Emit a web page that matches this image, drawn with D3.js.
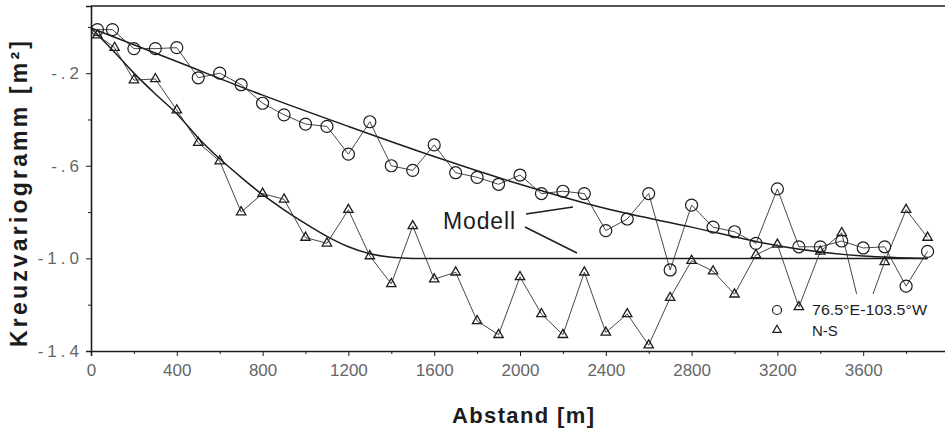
<!DOCTYPE html>
<html>
<head>
<meta charset="utf-8">
<script src="https://cdn.jsdelivr.net/npm/d3@7"></script>
<style>
  html, body { margin: 0; padding: 0; background: #fff; }
  svg { display: block; }
</style>
</head>
<body>
<script>
// ---------------- data ----------------
const ewDist = [30,100,200,300,400,500,600,700,800,900,1000,1100,1200,1300,1400,1500,1600,1700,1800,1900,2000,2100,2200,2300,2400,2500,2600,2700,2800,2900,3000,3100,3200,3300,3400,3500,3600,3700,3800,3900];
const ewVal  = [-0.012,-0.012,-0.094,-0.094,-0.09,-0.22,-0.20,-0.25,-0.33,-0.38,-0.42,-0.43,-0.55,-0.41,-0.60,-0.62,-0.51,-0.63,-0.65,-0.68,-0.64,-0.72,-0.71,-0.72,-0.88,-0.83,-0.72,-1.05,-0.77,-0.865,-0.885,-0.935,-0.70,-0.95,-0.95,-0.925,-0.955,-0.95,-1.12,-0.97];

const nsDist = [30,110,200,300,400,500,600,700,800,900,1000,1100,1200,1300,1400,1500,1600,1700,1800,1900,2000,2100,2200,2300,2400,2500,2600,2700,2800,2900,3000,3100,3200,3300,3400,3500,3600,3700,3800,3900];
const nsVal  = [-0.036,-0.09,-0.23,-0.225,-0.36,-0.50,-0.58,-0.80,-0.72,-0.745,-0.91,-0.935,-0.79,-0.99,-1.11,-0.86,-1.09,-1.06,-1.27,-1.33,-1.08,-1.24,-1.33,-1.06,-1.32,-1.24,-1.375,-1.17,-1.01,-1.055,-1.155,-0.985,-0.94,-1.21,-0.97,-0.89,-1.27,-1.015,-0.79,-0.91];

// model curves
const ewModelDist = [0,400,800,1200,1600,2000,2400,2800,3200,3600,3900];
const ewModelVal  = [-0.005,-0.15,-0.295,-0.43,-0.56,-0.68,-0.785,-0.865,-0.945,-0.99,-1.0];
const nsModelDist = [0,100,200,300,400,500,600,700,800,900,1000,1100,1200,1300,1400,1500,3900];
const nsModelVal  = [-0.005,-0.10,-0.20,-0.29,-0.375,-0.48,-0.57,-0.65,-0.725,-0.79,-0.85,-0.905,-0.95,-0.98,-0.995,-1.0,-1.0];

const xTicks = [0,200,400,600,800,1000,1200,1400,1600,1800,2000,2200,2400,2600,2800,3000,3200,3400,3600,3800];
const xTickLabels = {0:"0",400:"400",800:"800",1200:"1200",1600:"1600",2000:"2000",2400:"2400",2800:"2800",3200:"3200",3600:"3600"};
const yTicks = [0,-0.2,-0.4,-0.6,-0.8,-1.0,-1.2,-1.4];
const yTickLabels = {"-0.2":"-.2","-0.6":"-.6","-1":"-1.0","-1.4":"-1.4"};

const seriesNames = ["76.5°E-103.5°W","N-S"];
const xTitle = "Abstand [m]";
const yTitle = "Kreuzvariogramm [m²]";
const modelLabel = "Modell";

// ---------------- chart ----------------
const W = 945, H = 428;
const ink = "#1c1c1c";
const svg = d3.select("body").append("svg").attr("width", W).attr("height", H);

const x = d3.scaleLinear().domain([0, 4000]).range([91, 949]);
const y = d3.scaleLinear().domain([-1.4, 0.09]).range([351, 6]);

// top border
svg.append("line")
  .attr("x1", x(0)).attr("x2", W).attr("y1", y(0.09)).attr("y2", y(0.09))
  .attr("stroke", ink).attr("stroke-width", 1.6);

// x axis
const gx = svg.append("g").attr("transform", `translate(0,${y(-1.4)})`)
  .call(d3.axisBottom(x).tickValues(xTicks).tickSizeOuter(0).tickSize(5)
    .tickFormat(d => xTickLabels[d] || ""));
gx.select(".domain").attr("stroke", ink).attr("stroke-width", 1.6);
gx.selectAll(".tick line").attr("stroke", ink).attr("stroke-width", 1)
  .attr("y2", d => xTickLabels[d] !== undefined ? 5 : 3);
gx.selectAll(".tick text")
  .attr("y", 13).attr("dy", "0.71em")
  .attr("font-family", "'Liberation Sans', Arial, sans-serif")
  .attr("font-size", 17).attr("fill", "#666");

// y axis
const gy = svg.append("g").attr("transform", `translate(${x(0)},0)`)
  .call(d3.axisLeft(y).tickValues(yTicks).tickSizeOuter(0).tickSize(5)
    .tickFormat(d => yTickLabels[String(+d.toFixed(1))] || ""));
gy.select(".domain").attr("stroke", ink).attr("stroke-width", 1.6);
gy.selectAll(".tick line").attr("stroke", ink).attr("stroke-width", 1)
  .attr("x2", d => yTickLabels[String(+d.toFixed(1))] ? -5 : -3);
gy.selectAll(".tick text")
  .attr("x", -8)
  .attr("font-family", "'Liberation Sans', Arial, sans-serif")
  .attr("font-size", 17).attr("fill", "#666")
  .attr("letter-spacing", 4);

// model curves
const modelLine = d3.line().x(d => x(d[0])).y(d => y(d[1])).curve(d3.curveMonotoneX);
svg.append("path").datum(ewModelDist.map((d, i) => [d, ewModelVal[i]]))
  .attr("d", modelLine).attr("fill", "none").attr("stroke", ink).attr("stroke-width", 1.5);
svg.append("path").datum(nsModelDist.map((d, i) => [d, nsModelVal[i]]))
  .attr("d", modelLine).attr("fill", "none").attr("stroke", ink).attr("stroke-width", 1.5);

// data lines
const dataLine = d3.line().x(d => x(d[0])).y(d => y(d[1]));
const ew = ewDist.map((d, i) => [d, ewVal[i]]);
const ns = nsDist.map((d, i) => [d, nsVal[i]]);
svg.append("path").datum(ew).attr("d", dataLine)
  .attr("fill", "none").attr("stroke", "#333").attr("stroke-width", 0.9);
svg.append("path").datum(ns).attr("d", dataLine)
  .attr("fill", "none").attr("stroke", "#333").attr("stroke-width", 0.9);

// markers
const tri = d3.symbol().type(d3.symbolTriangle).size(38);
svg.append("g").selectAll("circle").data(ew).join("circle")
  .attr("cx", d => x(d[0])).attr("cy", d => y(d[1])).attr("r", 6)
  .attr("fill", "none").attr("stroke", ink).attr("stroke-width", 1.2);
svg.append("g").selectAll("path").data(ns).join("path")
  .attr("d", tri).attr("transform", d => `translate(${x(d[0])},${y(d[1])})`)
  .attr("fill", "none").attr("stroke", ink).attr("stroke-width", 1.3);

// legend (white background hides lines behind it)
svg.append("rect").attr("x", 806).attr("y", 294).attr("width", 134).attr("height", 48).attr("fill", "#fff");
svg.append("circle").attr("cx", 777).attr("cy", 310).attr("r", 4.5)
  .attr("fill", "none").attr("stroke", ink).attr("stroke-width", 1.2);
svg.append("path").attr("d", d3.symbol().type(d3.symbolTriangle).size(30))
  .attr("transform", "translate(777,330)")
  .attr("fill", "none").attr("stroke", ink).attr("stroke-width", 1.2);
svg.append("text").attr("x", 812).attr("y", 315).text(seriesNames[0])
  .attr("font-family", "'Liberation Sans', Arial, sans-serif").attr("font-size", 15)
  .attr("textLength", 115).attr("lengthAdjust", "spacingAndGlyphs").attr("fill", ink);
svg.append("text").attr("x", 812).attr("y", 336).text(seriesNames[1])
  .attr("font-family", "'Liberation Sans', Arial, sans-serif").attr("font-size", 15)
  .attr("fill", ink);

// "Modell" annotation
svg.append("text").attr("x", 443).attr("y", 229).text(modelLabel)
  .attr("font-family", "'Liberation Sans', Arial, sans-serif").attr("font-size", 23)
  .attr("textLength", 72).attr("lengthAdjust", "spacing").attr("fill", ink);
svg.append("line").attr("x1", 526).attr("y1", 214).attr("x2", 573).attr("y2", 207)
  .attr("stroke", ink).attr("stroke-width", 1.5);
svg.append("line").attr("x1", 525).attr("y1", 227).attr("x2", 577).attr("y2", 253)
  .attr("stroke", ink).attr("stroke-width", 1.5);

// axis titles
svg.append("text").attr("x", 523).attr("y", 423).attr("text-anchor", "middle").text(xTitle)
  .attr("font-family", "'Liberation Sans', Arial, sans-serif").attr("font-weight", "bold")
  .attr("font-size", 22).attr("textLength", 142).attr("lengthAdjust", "spacing").attr("fill", ink);
svg.append("text").attr("transform", "translate(27,194) rotate(-90)").attr("text-anchor", "middle").text(yTitle)
  .attr("font-family", "'Liberation Sans', Arial, sans-serif").attr("font-weight", "bold")
  .attr("font-size", 23).attr("textLength", 306).attr("lengthAdjust", "spacing").attr("fill", ink);
</script>
</body>
</html>
